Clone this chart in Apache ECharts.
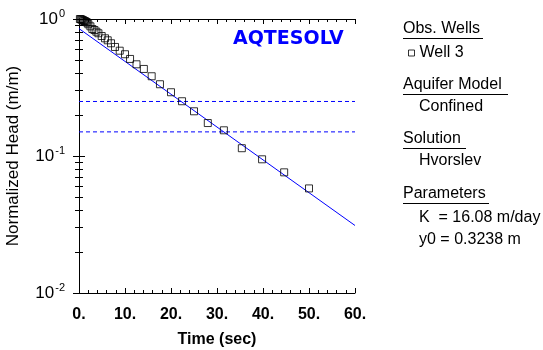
<!DOCTYPE html>
<html>
<head>
<meta charset="utf-8">
<script src="https://cdn.jsdelivr.net/npm/echarts@6/dist/echarts.min.js"></script>
<style>html,body{margin:0;padding:0;background:#fff}#c{width:543px;height:350px}</style>
</head>
<body>
<div id="c"></div>
<script>
// ---- data ----
const wellTime = [0.2,0.4,0.6,0.8,1.0,1.2,1.4,1.6,1.8,2.04,2.48,2.91,3.35,3.78,4.22,4.93,5.65,6.24,6.96,7.83,8.85,10.0,11.1,12.5,14.1,15.8,17.6,20.0,22.4,25.0,28.0,31.5,35.4,39.8,44.6,50.0];
const wellHead = [1.0,0.995,0.99,0.98,0.975,0.965,0.96,0.95,0.94,0.915,0.884,0.845,0.831,0.808,0.787,0.751,0.723,0.699,0.665,0.625,0.587,0.553,0.511,0.467,0.432,0.382,0.334,0.292,0.251,0.212,0.174,0.154,0.114,0.0946,0.076,0.058];
const fitTime = [0, 60];
const fitHead = [0.851, 0.0311];
const dashLevels = [0.25, 0.15];
const xRange = [0, 60];
const yRange = [0.01, 1];
const panelTexts = ['Obs. Wells','Aquifer Model','Confined','Solution','Hvorslev','Parameters','K  = 16.08 m/day','y0 = 0.3238 m'];
const seriesName = 'Well 3';

const FONT = 'Liberation Sans, Arial, sans-serif';
const chart = echarts.init(document.getElementById('c'), null, {renderer: 'canvas'});

const expLabel = v => {
  const e = Math.round(Math.log10(v));
  return '{b|10}{s|' + e + '}';
};

const headers = [
  {t: panelTexts[0], y: 29, ul: true},
  {t: panelTexts[1], y: 85, ul: true},
  {t: panelTexts[2], y: 107, x: 419},
  {t: panelTexts[3], y: 139, ul: true},
  {t: panelTexts[4], y: 161, x: 419},
  {t: panelTexts[5], y: 194, ul: true},
  {t: panelTexts[6], y: 218, x: 419},
  {t: panelTexts[7], y: 240, x: 419}
];
const ulWidths = {'Obs. Wells': 80, 'Aquifer Model': 105, 'Solution': 63, 'Parameters': 86};
const graphics = [];
headers.forEach(h => {
  graphics.push({type: 'text', x: h.x || 403, y: h.y, style: {text: h.t, fontSize: 16, fontFamily: FONT, fill: '#000', textVerticalAlign: 'middle'}});
  if (h.ul) graphics.push({type: 'line', shape: {x1: 403, y1: h.y + 9.5, x2: 403 + ulWidths[h.t], y2: h.y + 9.5}, style: {stroke: '#000', lineWidth: 1}});
});

const yAxisBase = {
  type: 'log', logBase: 10, min: yRange[0], max: yRange[1],
  axisLine: {lineStyle: {color: '#000', width: 1}},
  axisTick: {inside: true, length: 6, lineStyle: {color: '#000'}},
  minorTick: {show: true, splitNumber: 9, length: 4, lineStyle: {color: '#000'}},
  splitLine: {show: false}, minorSplitLine: {show: false}
};

chart.setOption({
  animation: false,
  backgroundColor: '#fff',
  title: {text: 'AQTESOLV', left: 228, top: 25, textStyle: {color: '#0000ff', fontSize: 19, fontWeight: 'bold', fontFamily: 'DejaVu Sans'}},
  legend: {
    data: [seriesName], left: 408, top: 45, icon: 'rect', itemWidth: 6, itemHeight: 6,
    itemStyle: {color: '#fff', borderColor: '#000', borderWidth: 1},
    textStyle: {fontSize: 16, fontFamily: FONT, color: '#000'}, padding: 0
  },
  graphic: graphics,
  grid: {left: 79, right: 188, top: 19, bottom: 57, containLabel: false, outerBoundsMode: 'none'},
  xAxis: [
    {type: 'value', min: xRange[0], max: xRange[1], interval: 10, position: 'bottom',
     name: 'Time (sec)', nameLocation: 'middle', nameGap: 39,
     nameTextStyle: {fontSize: 16, fontWeight: 'bold', fontFamily: FONT, color: '#000'},
     axisLine: {lineStyle: {color: '#000', width: 1}},
     axisTick: {inside: true, length: 5, lineStyle: {color: '#000'}},
     minorTick: {show: true, splitNumber: 5, length: 3, lineStyle: {color: '#000'}},
     axisLabel: {formatter: v => v + '.', fontSize: 16, fontWeight: 'bold', fontFamily: FONT, color: '#000', margin: 14},
     splitLine: {show: false}},
    {type: 'value', min: xRange[0], max: xRange[1], interval: 10, position: 'top',
     axisLine: {lineStyle: {color: '#000', width: 1}},
     axisTick: {inside: true, length: 5, lineStyle: {color: '#000'}},
     minorTick: {show: true, splitNumber: 5, length: 3, lineStyle: {color: '#000'}},
     axisLabel: {show: false}, splitLine: {show: false}}
  ],
  yAxis: [
    Object.assign({}, yAxisBase, {position: 'left',
     name: 'Normalized Head (m/m)', nameLocation: 'middle', nameGap: 57, nameRotate: 90,
     nameTextStyle: {fontSize: 17, fontFamily: FONT, color: '#000'},
     axisLabel: {formatter: expLabel, margin: 14, color: '#000',
       rich: {b: {fontSize: 17, fontFamily: FONT, color: '#000'},
              s: {fontSize: 11, fontFamily: FONT, color: '#000', padding: [0, 0, 11, 1]}}}}),
    Object.assign({}, yAxisBase, {position: 'right', axisLabel: {show: false}})
  ],
  series: [
    ...dashLevels.map(lv => ({
      type: 'line', silent: true, symbol: 'none', z: 2,
      data: [[xRange[0], lv], [xRange[1], lv]],
      lineStyle: {color: '#0000ff', width: 1, type: [4, 3]}
    })),
    {type: 'line', silent: true, symbol: 'none', z: 3,
     data: fitTime.map((t, i) => [t, fitHead[i]]),
     lineStyle: {color: '#0000ff', width: 1}},
    {name: seriesName, type: 'scatter', z: 4,
     data: wellTime.map((t, i) => [t, wellHead[i]]),
     symbol: 'rect', symbolSize: 7,
     itemStyle: {color: 'rgba(0,0,0,0)', borderColor: '#000', borderWidth: 1}}
  ]
});
</script>
</body>
</html>
